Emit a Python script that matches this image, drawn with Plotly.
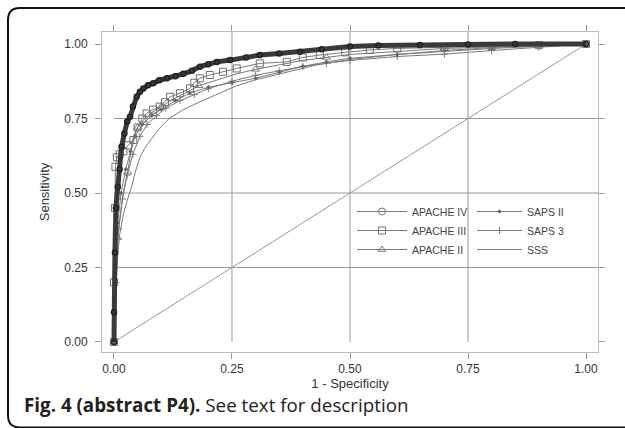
import plotly.graph_objects as go

# ---- data ----
apache4_x = [0, 0, 0.002, 0.004, 0.008, 0.012, 0.016, 0.022, 0.028, 0.034, 0.040, 0.048, 0.055, 0.062, 0.072,
             0.083, 0.096, 0.112, 0.130, 0.147, 0.165, 0.182, 0.200, 0.218, 0.246, 0.280, 0.309, 0.350, 0.394,
             0.440, 0.500, 0.560, 0.648, 0.750, 0.850, 1.0]
apache4_y = [0, 0.10, 0.30, 0.45, 0.52, 0.58, 0.655, 0.70, 0.74, 0.756, 0.79, 0.823, 0.84, 0.851, 0.862,
             0.868, 0.878, 0.885, 0.892, 0.900, 0.910, 0.924, 0.932, 0.940, 0.946, 0.955, 0.963, 0.968, 0.974,
             0.982, 0.992, 0.995, 0.997, 0.998, 1.0, 1.0]

apache3_x = [0, 0, 0.002, 0.003, 0.006, 0.012, 0.020, 0.030, 0.041, 0.050, 0.060, 0.069, 0.083, 0.097, 0.108,
             0.119, 0.140, 0.161, 0.170, 0.182, 0.203, 0.231, 0.260, 0.309, 0.366, 0.400, 0.436, 0.490, 0.542,
             0.600, 0.700, 0.800, 0.900, 1.0]
apache3_y = [0, 0.20, 0.45, 0.588, 0.62, 0.63, 0.64, 0.66, 0.678, 0.72, 0.75, 0.767, 0.78, 0.79, 0.805,
             0.823, 0.835, 0.851, 0.87, 0.885, 0.896, 0.907, 0.918, 0.935, 0.94, 0.955, 0.963, 0.972, 0.98,
             0.985, 0.99, 0.993, 0.996, 1.0]

apache2_x = [0, 0.002, 0.003, 0.008, 0.015, 0.022, 0.029, 0.035, 0.041, 0.050, 0.065, 0.080, 0.100, 0.120,
             0.150, 0.180, 0.220, 0.260, 0.300, 0.350, 0.400, 0.450, 0.500, 0.600, 0.700, 0.800, 0.900, 1.0]
apache2_y = [0, 0.10, 0.135, 0.35, 0.45, 0.52, 0.57, 0.63, 0.69, 0.72, 0.75, 0.77, 0.79, 0.81,
             0.835, 0.86, 0.88, 0.90, 0.915, 0.93, 0.945, 0.955, 0.965, 0.975, 0.985, 0.99, 0.995, 1.0]

saps2_x = [0, 0.003, 0.008, 0.015, 0.025, 0.035, 0.045, 0.060, 0.080, 0.100, 0.130, 0.160, 0.200, 0.250,
           0.300, 0.350, 0.400, 0.450, 0.500, 0.600, 0.700, 0.800, 0.900, 1.0]
saps2_y = [0, 0.20, 0.40, 0.50, 0.58, 0.64, 0.69, 0.73, 0.76, 0.78, 0.81, 0.835, 0.855, 0.87,
           0.885, 0.905, 0.925, 0.94, 0.952, 0.965, 0.978, 0.988, 0.995, 1.0]

saps3_x = [0, 0.004, 0.010, 0.018, 0.028, 0.040, 0.055, 0.070, 0.090, 0.110, 0.140, 0.170, 0.200, 0.250,
           0.300, 0.350, 0.400, 0.450, 0.500, 0.600, 0.700, 0.800, 0.900, 1.0]
saps3_y = [0, 0.20, 0.38, 0.48, 0.56, 0.63, 0.69, 0.73, 0.76, 0.785, 0.81, 0.83, 0.85, 0.875,
           0.895, 0.91, 0.925, 0.935, 0.945, 0.958, 0.966, 0.978, 0.99, 1.0]

sss_x = [0, 0.003, 0.006, 0.012, 0.020, 0.029, 0.037, 0.045, 0.055, 0.065, 0.079, 0.095, 0.117, 0.147,
         0.182, 0.225, 0.260, 0.300, 0.366, 0.430, 0.500, 0.600, 0.700, 0.800, 0.900, 1.0]
sss_y = [0, 0.10, 0.25, 0.36, 0.43, 0.48, 0.52, 0.57, 0.62, 0.65, 0.68, 0.715, 0.75, 0.78,
         0.806, 0.835, 0.86, 0.88, 0.905, 0.93, 0.948, 0.965, 0.975, 0.985, 0.992, 1.0]

ref_x = [0, 1]
ref_y = [0, 1]

tick_vals = [0, 0.25, 0.5, 0.75, 1.0]
tick_text = ["0.00", "0.25", "0.50", "0.75", "1.00"]
grid_vals = [0.25, 0.5, 0.75]

x_range = [-0.0254, 1.0254]
y_range = [-0.0336, 1.0403]

# ---- layout geometry (pixels) ----
W, H = 625, 428
ML, MR, MT, MB = 102, 27, 32, 76
PW, PH = W - ML - MR, H - MT - MB


def px_x(p):
    return (p - ML) / PW


def px_y(p):
    return (H - MB - p) / PH


GRAY = "#7a7a7a"
fig = go.Figure()

# diagonal reference
fig.add_trace(go.Scatter(x=ref_x, y=ref_y, mode="lines", line=dict(color="#9a9a9a", width=1),
                         showlegend=False, hoverinfo="skip"))

# SSS
fig.add_trace(go.Scatter(x=sss_x, y=sss_y, mode="lines", line=dict(color=GRAY, width=1),
                         name="SSS", legend="legend2"))
# SAPS 3
fig.add_trace(go.Scatter(x=saps3_x, y=saps3_y, mode="lines+markers", line=dict(color=GRAY, width=1),
                         marker=dict(symbol="cross-thin-open", size=5, color=GRAY, line=dict(color=GRAY, width=1)),
                         name="SAPS 3", legend="legend2"))
# SAPS II
fig.add_trace(go.Scatter(x=saps2_x, y=saps2_y, mode="lines+markers", line=dict(color=GRAY, width=1),
                         marker=dict(symbol="diamond", size=3.5, color="#666"),
                         name="SAPS II", legend="legend2"))
# APACHE II
fig.add_trace(go.Scatter(x=apache2_x, y=apache2_y, mode="lines+markers", line=dict(color=GRAY, width=1),
                         marker=dict(symbol="triangle-up-open", size=7, color=GRAY, maxdisplayed=10),
                         name="APACHE II", legend="legend"))
# APACHE III
fig.add_trace(go.Scatter(x=apache3_x, y=apache3_y, mode="lines+markers", line=dict(color=GRAY, width=1),
                         marker=dict(symbol="square-open", size=7, color="#707070"),
                         name="APACHE III", legend="legend"))
# APACHE IV (drawn heavy) + legend proxy
fig.add_trace(go.Scatter(x=apache4_x, y=apache4_y, mode="lines+markers",
                         line=dict(color="#3a3a3a", width=5),
                         marker=dict(symbol="circle-open", size=5, color="#222", line=dict(width=1.5)),
                         showlegend=False))
fig.add_trace(go.Scatter(x=[None], y=[None], mode="lines+markers", line=dict(color=GRAY, width=1),
                         marker=dict(symbol="circle-open", size=7, color=GRAY),
                         name="APACHE IV", legend="legend"))

shapes = []
for v in grid_vals:
    shapes.append(dict(type="line", xref="x", yref="y", x0=0, x1=x_range[1], y0=v, y1=v,
                       line=dict(color="#999", width=1), layer="below"))
    shapes.append(dict(type="line", xref="x", yref="y", x0=v, x1=v, y0=0, y1=y_range[1],
                       line=dict(color="#999", width=1), layer="below"))

# card border (rounded rectangle, partially cropped)
L, T, R, B, r = px_x(8), px_y(8), px_x(660), px_y(427.5), 12
rx, ry = r / PW, r / PH
path = (f"M {L},{B + ry} L {L},{T - ry} Q {L},{T} {L + rx},{T} L {R},{T} "
        f"M {L},{B + ry} Q {L},{B} {L + rx},{B} L {R},{B}")
shapes.append(dict(type="path", xref="paper", yref="paper", path=path,
                   line=dict(color="#111", width=2)))

axis_common = dict(
    tickvals=tick_vals, ticktext=tick_text, showgrid=False, zeroline=False,
    showline=True, linecolor="#bdbdbd", linewidth=1, mirror="ticks",
    ticks="outside", ticklen=6, tickcolor="#9a9a9a", tickwidth=1,
    tickfont=dict(family="Liberation Sans, Arial, sans-serif", size=12, color="#333"),
)
title_font = dict(family="Liberation Sans, Arial, sans-serif", size=13, color="#333")
legend_font = dict(family="Liberation Sans, Arial, sans-serif", size=10.5, color="#444")

fig.update_layout(
    width=W, height=H, margin=dict(l=ML, r=MR, t=MT, b=MB),
    paper_bgcolor="white", plot_bgcolor="white",
    xaxis=dict(range=x_range, title=dict(text="1 - Specificity", standoff=1, font=title_font),
               ticklabelstandoff=0, **axis_common),
    yaxis=dict(range=y_range, title=dict(text="Sensitivity", standoff=11, font=title_font),
               ticklabelstandoff=5, **axis_common),
    legend=dict(x=px_x(352), y=px_y(197), xanchor="left", yanchor="top", bgcolor="rgba(0,0,0,0)",
                font=legend_font, traceorder="reversed", itemwidth=50, tracegroupgap=0),
    legend2=dict(x=px_x(472), y=px_y(197), xanchor="left", yanchor="top", bgcolor="rgba(0,0,0,0)",
                 font=legend_font, traceorder="reversed", itemwidth=45, tracegroupgap=0),
    shapes=shapes,
    annotations=[dict(xref="paper", yref="paper", x=px_x(22), y=px_y(405), xanchor="left", yanchor="middle",
                      showarrow=False, align="left",
                      text="<b>Fig. 4 (abstract P4).</b> See text for description",
                      font=dict(family="Open Sans, Noto Sans, sans-serif", size=18.8, color="#222"))],
)

fig.write_html("out.html")
